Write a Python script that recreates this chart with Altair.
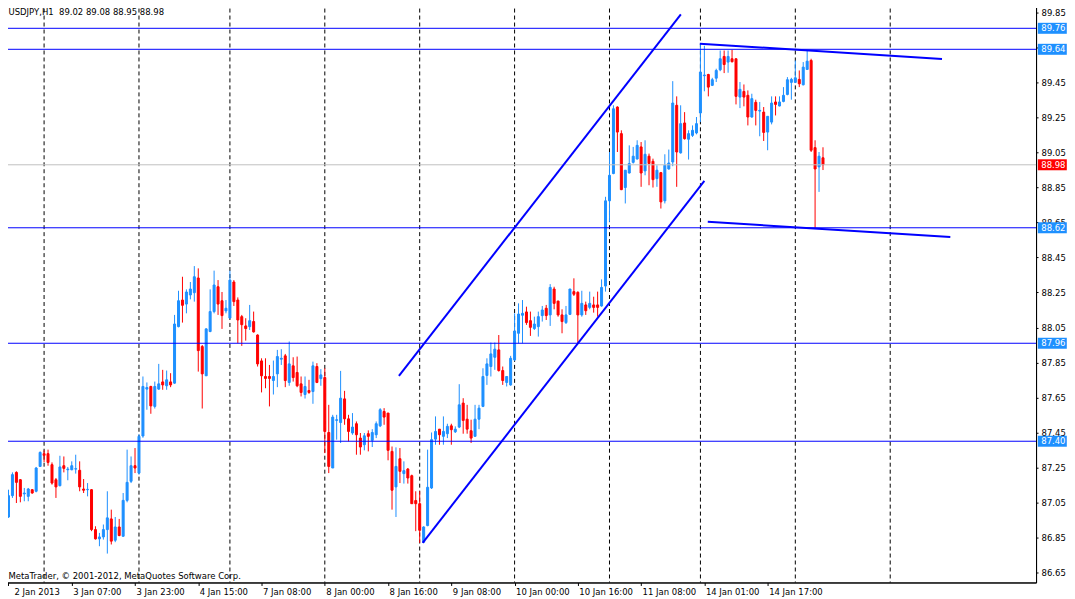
import altair as alt
import pandas as pd

# ---- candle data (USDJPY, H1) ----
OPEN = [86.967, 87.089, 87.222, 87.180, 87.099, 87.085, 87.123, 87.114, 87.256, 87.329,
        87.329, 87.266, 87.180, 87.146, 87.260, 87.237, 87.237, 87.241, 87.234, 87.127,
        87.123, 87.123, 86.895, 86.842, 86.853, 86.895, 86.956, 86.834, 86.910, 86.857,
        87.062, 87.171, 87.260, 87.218, 87.430, 87.698, 87.713, 87.599, 87.698, 87.739,
        87.717, 87.739, 87.732, 88.055, 88.207, 88.184, 88.236, 88.249, 88.333, 87.941,
        87.774, 88.027, 88.141, 88.283, 88.203, 88.145, 88.104, 88.310, 88.207, 88.112,
        88.059, 88.055, 88.084, 88.007, 87.859, 87.770, 87.770, 87.747, 87.785, 87.869,
        87.888, 87.736, 87.831, 87.793, 87.728, 87.667, 87.690, 87.684, 87.827, 87.758,
        87.764, 87.450, 87.247, 87.519, 87.507, 87.642, 87.528, 87.447, 87.500, 87.418,
        87.380, 87.443, 87.405, 87.437, 87.488, 87.570, 87.561, 87.342, 87.139, 87.300,
        87.215, 87.241, 87.203, 87.061, 87.043, 86.823, 86.918, 87.133, 87.412, 87.469,
        87.428, 87.443, 87.488, 87.454, 87.481, 87.618, 87.526, 87.460, 87.428, 87.526,
        87.599, 87.776, 87.827, 87.880, 87.922, 87.804, 87.736, 87.722, 87.865, 88.017,
        88.120, 88.139, 88.089, 88.044, 88.055, 88.118, 88.160, 88.122, 88.270, 88.201,
        88.122, 88.078, 88.125, 88.255, 88.251, 88.122, 88.179, 88.165, 88.179, 88.179,
        88.173, 88.287, 88.774, 88.930, 89.310, 89.158, 88.850, 88.933, 88.994, 89.013,
        89.082, 88.945, 89.029, 89.000, 88.901, 88.935, 88.774, 88.956, 88.996, 89.320,
        89.048, 89.219, 89.126, 89.148, 89.162, 89.276, 89.489, 89.496, 89.434, 89.475,
        89.523, 89.599, 89.567, 89.586, 89.586, 89.367, 89.399, 89.377, 89.253, 89.337,
        89.287, 89.281, 89.167, 89.224, 89.339, 89.316, 89.342, 89.382, 89.451, 89.451,
        89.468, 89.437, 89.525, 89.576, 89.078, 88.968, 89.020]
HIGH = [87.123, 87.222, 87.228, 87.184, 87.133, 87.133, 87.127, 87.253, 87.342, 87.348,
        87.352, 87.279, 87.190, 87.317, 87.313, 87.253, 87.285, 87.323, 87.285, 87.184,
        87.161, 87.127, 86.914, 86.876, 86.924, 87.114, 87.009, 86.967, 86.956, 87.104,
        87.352, 87.313, 87.361, 87.440, 87.770, 87.736, 87.717, 87.741, 87.842, 87.808,
        87.804, 87.789, 88.122, 88.260, 88.340, 88.268, 88.310, 88.401, 88.388, 87.950,
        88.046, 88.268, 88.375, 88.321, 88.253, 88.207, 88.375, 88.321, 88.222, 88.122,
        88.103, 88.179, 88.141, 88.011, 87.874, 87.874, 87.836, 87.861, 87.922, 87.926,
        87.899, 87.970, 87.880, 87.884, 87.770, 87.770, 87.751, 87.855, 87.846, 87.812,
        87.817, 87.608, 87.551, 87.551, 87.802, 87.688, 87.551, 87.561, 87.513, 87.447,
        87.447, 87.462, 87.469, 87.513, 87.589, 87.589, 87.561, 87.370, 87.365, 87.361,
        87.285, 87.247, 87.209, 87.114, 87.114, 86.914, 87.352, 87.450, 87.542, 87.469,
        87.542, 87.500, 87.500, 87.485, 87.726, 87.646, 87.608, 87.523, 87.608, 87.608,
        87.817, 87.874, 87.964, 87.964, 88.007, 87.827, 87.770, 87.888, 88.131, 88.188,
        88.207, 88.169, 88.141, 88.112, 88.141, 88.173, 88.179, 88.298, 88.283, 88.203,
        88.154, 88.173, 88.270, 88.331, 88.257, 88.260, 88.198, 88.255, 88.226, 88.255,
        88.325, 88.797, 89.053, 89.320, 89.314, 89.177, 88.949, 89.091, 89.082, 89.120,
        89.110, 89.120, 89.044, 89.015, 88.977, 88.939, 89.040, 89.067, 89.458, 89.371,
        89.320, 89.281, 89.177, 89.205, 89.253, 89.671, 89.660, 89.500, 89.477, 89.529,
        89.633, 89.633, 89.633, 89.637, 89.586, 89.453, 89.439, 89.405, 89.386, 89.352,
        89.339, 89.310, 89.257, 89.371, 89.371, 89.371, 89.424, 89.481, 89.477, 89.576,
        89.519, 89.567, 89.633, 89.586, 89.120, 89.053, 89.080]
LOW = [86.962, 87.076, 87.047, 87.051, 87.057, 87.057, 87.100, 87.108, 87.253, 87.281,
       87.260, 87.152, 87.076, 87.142, 87.222, 87.177, 87.234, 87.215, 87.114, 87.104,
       87.085, 86.886, 86.838, 86.800, 86.838, 86.758, 86.810, 86.823, 86.857, 86.853,
       87.051, 87.161, 87.218, 87.209, 87.420, 87.580, 87.557, 87.587, 87.694, 87.694,
       87.694, 87.709, 87.728, 88.051, 88.078, 88.131, 88.211, 88.198, 87.798, 87.587,
       87.774, 88.023, 88.131, 88.122, 88.042, 88.131, 88.103, 88.173, 87.960, 87.945,
       87.975, 88.036, 88.021, 87.827, 87.679, 87.703, 87.599, 87.667, 87.709, 87.836,
       87.709, 87.717, 87.741, 87.709, 87.656, 87.644, 87.671, 87.614, 87.732, 87.717,
       87.332, 87.218, 87.247, 87.409, 87.390, 87.494, 87.399, 87.437, 87.323, 87.323,
       87.348, 87.342, 87.367, 87.418, 87.481, 87.494, 87.291, 87.009, 86.967, 87.161,
       87.158, 87.158, 87.043, 86.886, 86.819, 86.819, 86.914, 87.127, 87.380, 87.380,
       87.380, 87.418, 87.380, 87.447, 87.475, 87.443, 87.443, 87.390, 87.428, 87.469,
       87.595, 87.722, 87.770, 87.808, 87.798, 87.722, 87.713, 87.717, 87.860, 87.960,
       87.960, 88.065, 88.002, 88.036, 87.998, 88.084, 88.093, 88.059, 88.154, 88.112,
       88.017, 88.070, 88.122, 88.230, 87.960, 88.112, 88.122, 88.154, 88.135, 88.112,
       88.169, 88.255, 88.654, 88.926, 89.053, 88.835, 88.759, 88.930, 88.987, 89.010,
       88.854, 88.920, 88.863, 88.850, 88.854, 88.730, 88.759, 88.952, 88.972, 88.854,
       89.044, 89.124, 89.010, 89.139, 89.154, 89.224, 89.400, 89.371, 89.430, 89.453,
       89.515, 89.504, 89.506, 89.565, 89.325, 89.304, 89.314, 89.205, 89.249, 89.205,
       89.143, 89.116, 89.063, 89.211, 89.262, 89.314, 89.337, 89.377, 89.352, 89.447,
       89.424, 89.434, 89.523, 89.053, 88.616, 88.825, 88.950]
CLOSE = [87.089, 87.209, 87.165, 87.085, 87.104, 87.127, 87.104, 87.247, 87.336, 87.319,
         87.279, 87.161, 87.139, 87.253, 87.245, 87.241, 87.260, 87.243, 87.139, 87.120,
         87.125, 86.895, 86.842, 86.853, 86.895, 86.962, 86.829, 86.910, 86.861, 87.062,
         87.165, 87.260, 87.247, 87.428, 87.713, 87.707, 87.602, 87.713, 87.728, 87.722,
         87.751, 87.722, 88.070, 88.203, 88.177, 88.253, 88.270, 88.340, 87.918, 87.785,
         88.042, 88.141, 88.293, 88.184, 88.118, 88.160, 88.321, 88.198, 88.093, 88.066,
         88.044, 88.089, 88.025, 87.842, 87.774, 87.759, 87.759, 87.770, 87.884, 87.874,
         87.747, 87.842, 87.764, 87.717, 87.679, 87.713, 87.679, 87.831, 87.736, 87.779,
         87.456, 87.256, 87.538, 87.523, 87.646, 87.528, 87.456, 87.481, 87.437, 87.367,
         87.431, 87.428, 87.450, 87.500, 87.580, 87.538, 87.348, 87.120, 87.256, 87.228,
         87.232, 87.190, 87.043, 87.043, 86.891, 86.910, 87.137, 87.409, 87.456, 87.437,
         87.456, 87.485, 87.466, 87.469, 87.608, 87.519, 87.469, 87.418, 87.526, 87.589,
         87.770, 87.842, 87.899, 87.926, 87.804, 87.747, 87.770, 87.874, 88.030, 88.127,
         88.131, 88.078, 88.051, 88.070, 88.112, 88.150, 88.118, 88.279, 88.188, 88.122,
         88.084, 88.122, 88.270, 88.240, 88.122, 88.188, 88.146, 88.188, 88.165, 88.165,
         88.279, 88.774, 88.920, 89.300, 89.167, 88.838, 88.949, 88.987, 89.029, 89.091,
         88.933, 89.040, 88.987, 88.895, 88.949, 88.768, 88.977, 88.990, 89.333, 89.053,
         89.215, 89.129, 89.158, 89.177, 89.215, 89.510, 89.493, 89.424, 89.466, 89.519,
         89.586, 89.553, 89.599, 89.569, 89.371, 89.411, 89.367, 89.253, 89.358, 89.291,
         89.291, 89.165, 89.257, 89.333, 89.325, 89.339, 89.377, 89.466, 89.468, 89.477,
         89.443, 89.538, 89.572, 89.063, 88.956, 89.029, 88.980]

# time axis: label every 16 bars
X_LABEL_BARS = [0, 16, 32, 48, 64, 80, 96, 112, 128, 144, 160, 176, 192]
X_LABELS = ["2 Jan 2013", "3 Jan 07:00", "3 Jan 23:00", "4 Jan 15:00", "7 Jan 08:00",
            "8 Jan 00:00", "8 Jan 16:00", "9 Jan 08:00", "10 Jan 00:00", "10 Jan 16:00",
            "11 Jan 08:00", "14 Jan 01:00", "14 Jan 17:00"]
# day separators (dashed grid), as bar positions
DAY_GRID_BARS = [9, 33, 56, 80, 104, 128, 152, 175, 199, 223]
# price axis ticks
Y_TICKS = [86.65, 86.85, 87.05, 87.25, 87.45, 87.65, 87.85, 88.05,
           88.25, 88.45, 88.65, 88.85, 89.05, 89.25, 89.45, 89.65, 89.85]
# horizontal levels
LEVELS = [89.76, 89.64, 88.62, 87.96, 87.40]
BID = 88.98
# trend lines: (name, bar, price) end points
TL_NAME = ["up_hi", "up_hi", "up_lo", "up_lo", "tri_hi", "tri_hi", "tri_lo", "tri_lo"]
TL_BAR = [98.75, 170.05, 104.75, 176.0, 174.85, 236.1, 176.85, 238.2]
TL_PRICE = [87.774, 89.839, 86.819, 88.888, 89.672, 89.585, 88.654, 88.567]

HEADER = "USDJPY,H1\u00a0\u00a089.02 89.08 88.95 88.98"
COPYRIGHT = "MetaTrader, \u00a9 2001-2012, MetaQuotes Software Corp."

FONT = "DejaVu Sans"
FS = 8.5
W, H = 1035, 582

candles = pd.DataFrame({"i": list(range(len(OPEN))), "open": OPEN, "high": HIGH,
                        "low": LOW, "close": CLOSE})
candles["dir"] = ["up" if c >= o else "down" for o, c in zip(OPEN, CLOSE)]

grid_df = pd.DataFrame({"bar": DAY_GRID_BARS})
lev_df = pd.DataFrame({"price": LEVELS})
bid_df = pd.DataFrame({"price": [BID]})
tl_df = pd.DataFrame({"line": TL_NAME, "bar": TL_BAR, "price": TL_PRICE})
box_df = pd.DataFrame({"price": LEVELS + [BID],
                       "label": [f"{p:.2f}" for p in LEVELS + [BID]],
                       "kind": ["level"] * len(LEVELS) + ["bid"]})
text_df = pd.DataFrame({"t": [HEADER]})
copy_df = pd.DataFrame({"t": [COPYRIGHT]})

xs = alt.Scale(domain=[-0.125, 258.625], nice=False, zero=False)
ys = alt.Scale(domain=[86.5928, 89.9128], nice=False, zero=False)

label_js = "[" + ",".join("'" + s + "'" for s in X_LABELS) + "][round(datum.value / 16)]"
x_axis = alt.Axis(values=X_LABEL_BARS, labelExpr=label_js, title=None, tickSize=3,
                  labelAlign="left", labelBaseline="top", labelPadding=2,
                  labelOffset={"condition": {"test": "datum.value === 0", "value": 5.5}, "value": 1},
                  labelOverlap=False, labelBound=False, labelFlush=False, grid=False)
y_axis = alt.Axis(orient="right", values=Y_TICKS, format=".2f", title=None, tickSize=2,
                  labelPadding=3, grid=False, labelOverlap=False, labelFlush=False,
                  labelBound=False)

dir_scale = alt.Scale(domain=["up", "down"], range=["#1E90FF", "#FF0000"])


def X(field):
    return alt.X(field, type="quantitative", scale=xs, axis=x_axis)


def Y(field):
    return alt.Y(field, type="quantitative", scale=ys, axis=y_axis)


grid = alt.Chart(grid_df).mark_rule(color="black", strokeDash=[4, 3], strokeWidth=1).encode(
    x=X("bar"))

wicks = alt.Chart(candles).mark_rule(strokeWidth=1).encode(
    x=X("i"), y=Y("low"), y2="high",
    color=alt.Color("dir:N", scale=dir_scale, legend=None))

bodies = alt.Chart(candles).mark_bar(size=2, strokeWidth=1).encode(
    x=X("i"), y=Y("open"), y2="close",
    fill=alt.Fill("dir:N", scale=dir_scale, legend=None),
    stroke=alt.Stroke("dir:N", scale=dir_scale, legend=None))

levels = alt.Chart(lev_df).mark_rule(color="#0000FF", strokeWidth=1).encode(y=Y("price"))
bid = alt.Chart(bid_df).mark_rule(color="#C0C0C0", strokeWidth=1).encode(y=Y("price"))

trend = alt.Chart(tl_df).mark_line(color="#0000FF", strokeWidth=2).encode(
    x=X("bar"), y=Y("price"), detail="line:N")

boxes = alt.Chart(box_df).mark_rule(strokeWidth=11).encode(
    x=alt.value(W + 1.8), x2=alt.value(W + 30.8), y=Y("price"),
    color=alt.Color("kind:N", scale=alt.Scale(domain=["level", "bid"],
                                               range=["#0000FF", "#000000"]), legend=None))
box_text = alt.Chart(box_df).mark_text(align="left", baseline="middle", color="white",
                                       font=FONT, fontSize=FS).encode(
    x=alt.value(W + 5.2), y=Y("price"), text="label:N")

header = alt.Chart(text_df).mark_text(align="left", baseline="alphabetic", color="black",
                                      font=FONT, fontSize=FS).encode(
    x=alt.value(5.5), y=alt.value(13.5), text="t:N")
copyright_t = alt.Chart(copy_df).mark_text(align="left", baseline="alphabetic", color="black",
                                           font=FONT, fontSize=FS).encode(
    x=alt.value(5.5), y=alt.value(578.5), text="t:N")

chart = alt.layer(grid, wicks, bodies, levels, bid, trend, boxes, box_text, header,
                  copyright_t).properties(
    width=W, height=H,
    autosize=alt.AutoSizeParams(type="none"),
    padding={"left": -5, "top": -7, "right": 31, "bottom": 16},
    background="white",
).configure_view(stroke="black", strokeWidth=1).configure_axis(
    domainColor="black", tickColor="black", labelColor="black",
    labelFont=FONT, labelFontSize=FS, domainWidth=1, tickWidth=1)

chart.save("out.html", embed_options={"renderer": "svg", "actions": False})
